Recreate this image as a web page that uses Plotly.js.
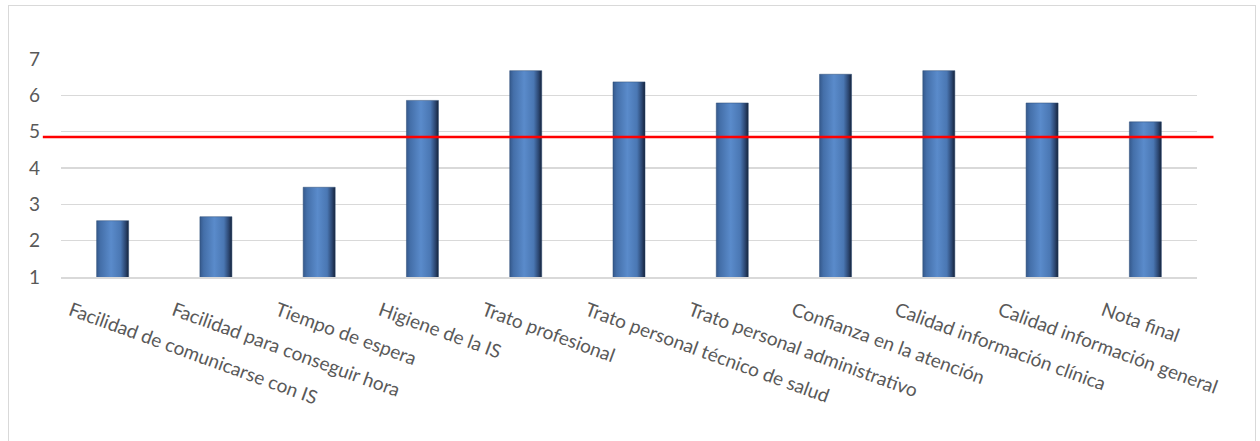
<!DOCTYPE html>
<html>
<head>
<meta charset="utf-8">
<script src="https://cdn.plot.ly/plotly-3.0.1.min.js"></script>
<style>
  html, body { margin: 0; padding: 0; background: #ffffff; }
  #wrap { position: relative; width: 1260px; height: 441px; overflow: hidden; }
  #chart { width: 1260px; height: 441px; }
  #frame { position: absolute; left: 8px; top: 5px; width: 1248px; height: 460px;
           border: 1.5px solid #d9d9d9; pointer-events: none; box-sizing: border-box; }
</style>
</head>
<body>
<svg width="0" height="0" style="position:absolute">
  <defs>
    <linearGradient id="barGrad" x1="0" y1="0" x2="1" y2="0">
      <stop offset="0%" stop-color="#35598c"/>
      <stop offset="12%" stop-color="#446fa9"/>
      <stop offset="45%" stop-color="#5a8bcb"/>
      <stop offset="75%" stop-color="#4a77b3"/>
      <stop offset="90%" stop-color="#2c4772"/>
      <stop offset="100%" stop-color="#15233a"/>
    </linearGradient>
  </defs>
</svg>
<div id="wrap">
  <div id="chart"></div>
  <div id="frame"></div>
</div>
<script>
const categories = [
  "Facilidad de comunicarse con IS",
  "Facilidad para conseguir hora",
  "Tiempo de espera",
  "Higiene de la IS",
  "Trato profesional",
  "Trato personal técnico de salud",
  "Trato personal administrativo",
  "Confianza en la atención",
  "Calidad información clínica",
  "Calidad información general",
  "Nota final"
];
const scores = [2.55, 2.66, 3.47, 5.86, 6.68, 6.37, 5.79, 6.58, 6.68, 5.79, 5.27];
const referenceLevel = 4.85;
const yTicks = [1, 2, 3, 4, 5, 6, 7];

const trace = {
  type: "bar",
  x: categories,
  y: scores,
  marker: { color: "#4f81bd", line: { color: "#2b4a75", width: 0.5 } },
  hoverinfo: "x+y"
};

const layout = {
  width: 1260,
  height: 441,
  margin: { l: 61, r: 63, t: 59, b: 164 },
  paper_bgcolor: "#ffffff",
  plot_bgcolor: "#ffffff",
  showlegend: false,
  bargap: 0.69,
  font: { family: "Lato, 'Open Sans', sans-serif", color: "#595959" },
  xaxis: {
    type: "category",
    tickangle: 20,
    tickfont: { size: 19, color: "#595959", family: "Lato, 'Open Sans', sans-serif" },
    showgrid: false,
    showline: true,
    linecolor: "#d9d9d9",
    linewidth: 1.5,
    ticks: "",
    ticklabelshift: -42,
    ticklabelstandoff: 14,
    fixedrange: true
  },
  yaxis: {
    range: [1, 7],
    tickvals: yTicks,
    ticktext: yTicks.map(String),
    tickfont: { size: 19, color: "#595959", family: "Lato, 'Open Sans', sans-serif" },
    showgrid: true,
    gridcolor: "#d9d9d9",
    gridwidth: 1.5,
    zeroline: false,
    showline: false,
    ticks: "",
    ticklabelstandoff: 20,
    fixedrange: true
  },
  shapes: [{
    type: "line",
    xref: "paper",
    yref: "y",
    x0: -0.016,
    x1: 1.0145,
    y0: referenceLevel,
    y1: referenceLevel,
    line: { color: "#ff0000", width: 2.5 },
    layer: "above"
  }]
};

Plotly.newPlot("chart", [trace], layout, { displayModeBar: false, staticPlot: true }).then(function () {
  document.querySelectorAll("#chart .bars path").forEach(function (p) {
    p.style.fill = "url(#barGrad)";
  });
});
</script>
</body>
</html>
